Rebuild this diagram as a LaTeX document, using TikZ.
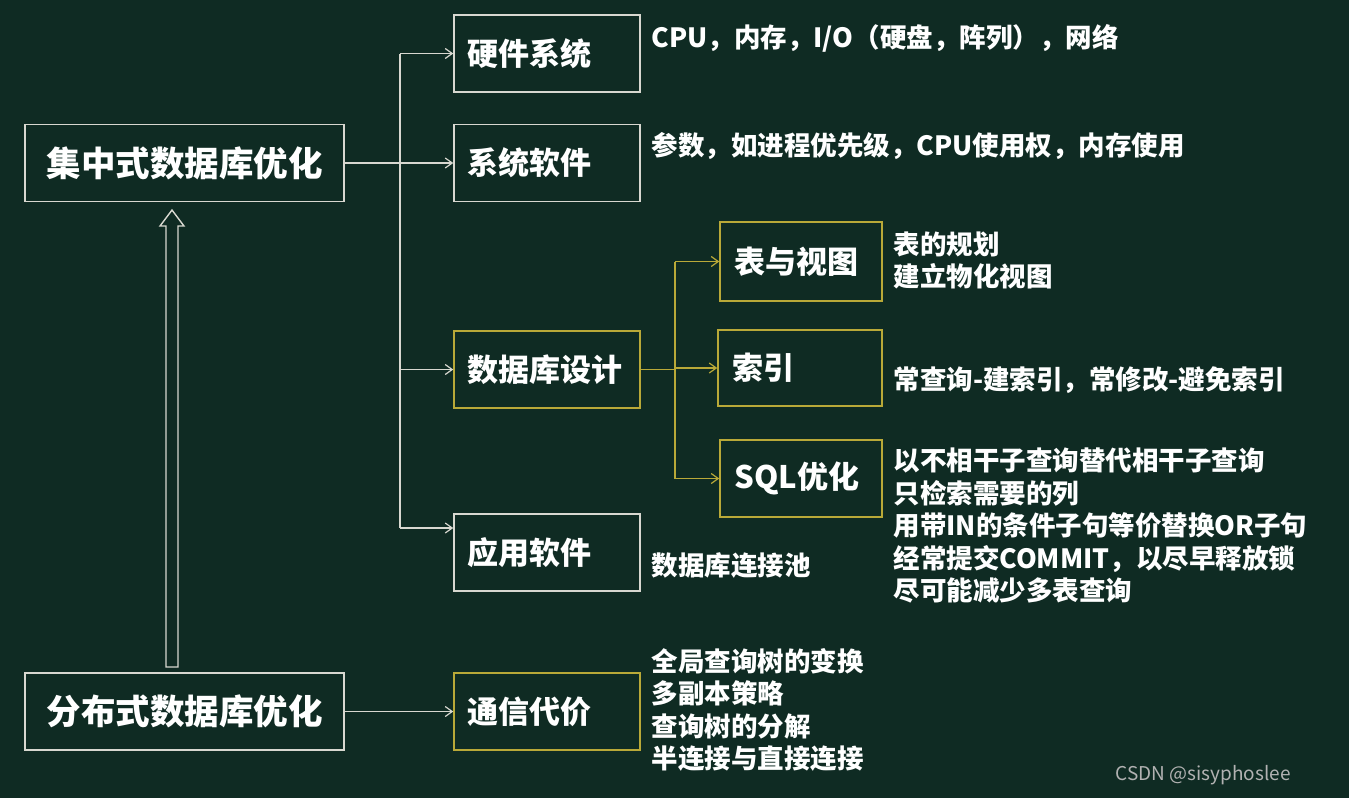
\documentclass[tikz,border=0pt]{standalone}
\usepackage{fontspec}
\setmainfont{Noto Sans CJK SC}
\usetikzlibrary{arrows.meta}
\definecolor{bg}{HTML}{0F2B23}
\definecolor{ln}{HTML}{D8D8D0}
\definecolor{yl}{HTML}{B9A938}
\begin{document}
\begin{tikzpicture}[x=1pt,y=-1pt,
  box/.style={draw=ln,line width=1.5pt,minimum height=77pt,inner sep=0pt},
  ybox/.style={box,draw=yl},
  lbl/.style={text=white,anchor=west,font=\bfseries\fontsize{31}{33}\selectfont},
  big/.style={text=white,font=\bfseries\fontsize{34.5}{36}\selectfont},
  side/.style={text=white,anchor=west,align=left,font=\bfseries\fontsize{26.5}{32.5}\selectfont},
  arr/.style={draw=ln,line width=1.2pt,-{Straight Barb[length=7pt,width=10pt]}},
  ln/.style={draw=ln,line width=1.2pt}]
\fill[bg] (0,0) rectangle (1349,798);
\useasboundingbox (0,0) rectangle (1349,798);
\node[box,minimum width=319pt] (c) at (184.5,163) {};
\node[big] at (c) {集中式数据库优化};
\node[box,minimum width=319pt] (d) at (184.5,711.5) {};
\node[big] at (d) {分布式数据库优化};
\node[box,minimum width=186pt] (hw) at (547,53.5) {};
\node[lbl] at (464,53.5) {硬件系统};
\node[box,minimum width=186pt] (sw) at (547,163) {};
\node[lbl] at (464,163) {系统软件};
\node[ybox,minimum width=186pt] (db) at (547,369.5) {};
\node[lbl] at (464,369.5) {数据库设计};
\node[box,minimum width=186pt] (app) at (547,552.5) {};
\node[lbl] at (464,552.5) {应用软件};
\node[ybox,minimum width=186pt] (com) at (547,711.5) {};
\node[lbl] at (464,711.5) {通信代价};
\node[ybox,minimum width=162pt,minimum height=79pt] (tv) at (801,261.5) {};
\node[lbl] at (731,261.5) {表与视图};
\node[ybox,minimum width=164pt,minimum height=76pt] (ix) at (800,368) {};
\node[lbl] at (729,368) {索引};
\node[ybox,minimum width=162pt] (sql) at (801,478.5) {};
\node[lbl] at (731,478.5) {SQL优化};
% tree 1
\coordinate (j1) at (400,163);
\draw[ln] (400,53.5) -- (400,528);
\draw[ln] (c.east) -- (j1);
\draw[arr] (j1) -- (sw.west);
\draw[arr] (400,53.5) -- (hw.west);
\draw[arr] (400,369.5) -- (db.west);
\draw[arr] (400,528) -- (app.west|-0,528);
% tree 2
\draw[ln,draw=yl] (db.east) -- (675,369.5);
\draw[ln,draw=yl] (675,261.5) -- (675,478.5);
\draw[arr,draw=yl] (675,261.5) -- (tv.west);
\draw[arr,draw=yl] (675,368) -- (ix.west);
\draw[arr,draw=yl] (675,478.5) -- (sql.west);
\draw[arr] (d.east) -- (com.west);
% hollow arrow
\draw[ln,line width=1.4pt] (166,667) -- (166,226) -- (160,226) -- (172,210) -- (184,226) -- (178,226) -- (178,667) -- cycle;
% side texts
\node[side] at (648,38) {CPU，内存，I/O（硬盘，阵列），网络};
\node[side] at (648,146) {参数，如进程优先级，CPU使用权，内存使用};
\node[side] at (890,260.5) {表的规划\\建立物化视图};
\node[side] at (890,380) {常查询-建索引，常修改-避免索引};
\node[side] at (890,525.5) {以不相干子查询替代相干子查询\\只检索需要的列\\用带IN的条件子句等价替换OR子句\\经常提交COMMIT，以尽早释放锁\\尽可能减少多表查询};
\node[side] at (648,566) {数据库连接池};
\node[side] at (648,710) {全局查询树的变换\\多副本策略\\查询树的分解\\半连接与直接连接};
\node[text=gray!60,anchor=west,font=\fontsize{19}{20}\selectfont] at (1112,775) {CSDN @sisyphoslee};
\end{tikzpicture}
\end{document}
